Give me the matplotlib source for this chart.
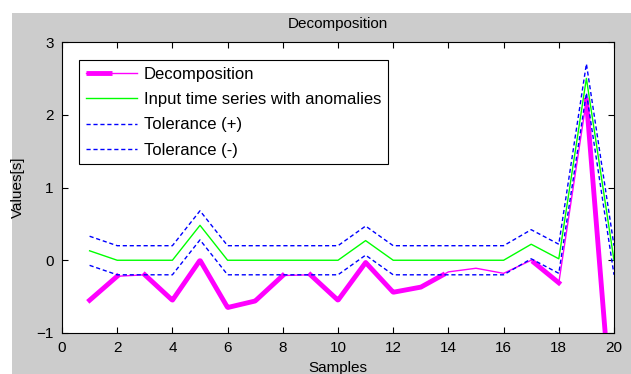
import numpy as np
import matplotlib
matplotlib.use("Agg")
import matplotlib.pyplot as plt
from matplotlib.lines import Line2D
from matplotlib.patches import Rectangle
from matplotlib.legend_handler import HandlerBase

plt.rcParams['font.family'] = ['Liberation Sans', 'DejaVu Sans']

samples = list(range(1, 21))
decomposition = [-0.55, -0.22, -0.2, -0.55, 0.0, -0.65, -0.56, -0.21, -0.2, -0.55,
                 -0.03, -0.44, -0.37, -0.16, -0.11, -0.18, 0.0, -0.31, 2.2, -2.5]
input_series = [0.13, 0.0, 0.0, 0.0, 0.48, 0.0, 0.0, 0.0, 0.0, 0.0,
                0.27, 0.0, 0.0, 0.0, 0.0, 0.0, 0.22, 0.02, 2.5, 0.0]
tol_plus = [0.33, 0.2, 0.2, 0.2, 0.68, 0.2, 0.2, 0.2, 0.2, 0.2,
            0.47, 0.2, 0.2, 0.2, 0.2, 0.2, 0.42, 0.22, 2.7, 0.2]
tol_minus = [-0.07, -0.2, -0.2, -0.2, 0.28, -0.2, -0.2, -0.2, -0.2, -0.2,
             0.07, -0.2, -0.2, -0.2, -0.2, -0.2, 0.02, -0.18, 2.3, -0.2]
# sample ranges where the decomposition is drawn heavy
heavy_ranges = [(1, 2), (3, 8), (9, 13.8), (17.1, 18), (19, 20)]


class HandlerSplitLine(HandlerBase):
    # legend sample: thick left part + thin line across
    def create_artists(self, legend, orig_handle, xdescent, ydescent,
                       width, height, fontsize, trans):
        y = height / 2 - ydescent
        c = orig_handle.get_color()
        thin = Line2D([-xdescent, width - xdescent], [y, y], color=c, lw=1)
        thick = Line2D([-xdescent, -xdescent + width * 0.5], [y, y], color=c, lw=3.5,
                       solid_capstyle='butt')
        thin.set_transform(trans)
        thick.set_transform(trans)
        return [thin, thick]


fig = plt.figure(figsize=(6.31, 3.74), dpi=100, facecolor='white')
fig.patches.append(Rectangle((12 / 631, 0), 1, (374 - 13) / 374, transform=fig.transFigure,
                             facecolor='#cccccc', edgecolor='none', zorder=-10))
ax = fig.add_axes([62 / 631, 1 - 333 / 374, 552 / 631, 291 / 374])

dec_line, = ax.plot(samples, decomposition, color='#ff00ff', lw=1, label='Decomposition')
for a, b in heavy_ranges:
    xs = np.linspace(a, b, 200)
    ax.plot(xs, np.interp(xs, samples, decomposition), color='#ff00ff', lw=3.5)
ax.plot(samples, input_series, color='#00ff00', lw=1, label='Input time series with anomalies')
ax.plot(samples, tol_plus, color='#0000ff', lw=1, linestyle=(0, (3, 2)), label='Tolerance (+)')
ax.plot(samples, tol_minus, color='#0000ff', lw=1, linestyle=(0, (3, 2)), label='Tolerance (-)')

ax.set_xlim(0, 20)
ax.set_ylim(-1, 3)
ax.set_xticks(range(0, 21, 2))
ax.set_yticks([-1, 0, 1, 2, 3])
ax.tick_params(direction='in', top=True, right=True, length=4, width=0.8,
               labelsize=11, pad=6)
for s in ax.spines.values():
    s.set_linewidth(0.8)

ax.set_title('Decomposition', fontsize=11, pad=10)
ax.set_xlabel('Samples', fontsize=11, labelpad=4)
ax.set_ylabel('Values[s]', fontsize=11, labelpad=8)

leg = ax.legend(handler_map={dec_line: HandlerSplitLine()}, loc='upper left',
                bbox_to_anchor=(17 / 552, 1 - 18 / 291), borderaxespad=0,
                fontsize=12, fancybox=False, framealpha=1, edgecolor='black',
                handlelength=3.1, handletextpad=0.4, labelspacing=0.62, borderpad=0.4)
leg.get_frame().set_linewidth(0.8)

fig.savefig('out.png', dpi=100)
